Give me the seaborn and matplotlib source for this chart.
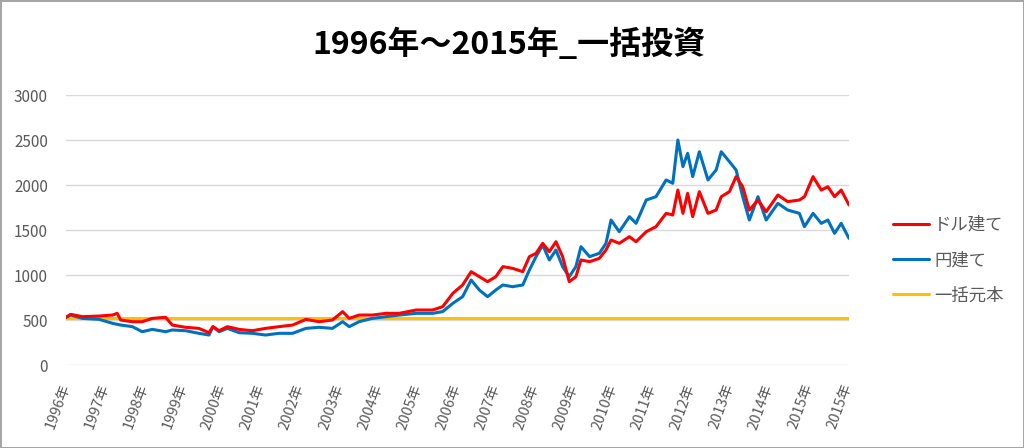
import matplotlib
matplotlib.use("Agg")
import matplotlib.pyplot as plt
import pandas as pd
import seaborn as sns

# Values (decimal year, value)
year_frac = [
    1996.00, 1996.12, 1996.42, 1996.85, 1997.19, 1997.31, 1997.40, 1997.70,
    1997.95, 1998.21, 1998.55, 1998.72, 1999.06, 1999.40, 1999.66, 1999.76,
    1999.92, 2000.13, 2000.43, 2000.77, 2001.11, 2001.45, 2001.80, 2002.14,
    2002.48, 2002.82, 2003.08, 2003.25, 2003.50, 2003.84, 2004.19, 2004.53,
    2004.96, 2005.38, 2005.64, 2005.90, 2006.15, 2006.37, 2006.58, 2006.79,
    2007.00, 2007.18, 2007.43, 2007.69, 2007.86, 2008.03, 2008.20, 2008.37,
    2008.54, 2008.71, 2008.88, 2009.05, 2009.18, 2009.40, 2009.65, 2009.82,
    2009.95, 2010.16, 2010.42, 2010.59, 2010.85, 2011.10, 2011.36, 2011.53,
    2011.66, 2011.79, 2011.91, 2012.04, 2012.21, 2012.43, 2012.64, 2012.77,
    2012.98, 2013.15, 2013.32, 2013.49, 2013.71, 2013.92, 2014.22, 2014.47,
    2014.77, 2014.90, 2015.12, 2015.33, 2015.50, 2015.67, 2015.84, 2016.04,
]
dollar_based = [
    530, 563, 537, 544, 555, 574, 500, 481,
    481, 518, 530, 444, 419, 407, 359, 426,
    381, 426, 396, 381, 407, 426, 444, 507,
    481, 500, 593, 518, 555, 555, 574, 574,
    611, 611, 648, 796, 889, 1037, 981, 926,
    981, 1093, 1074, 1037, 1204, 1241, 1352, 1259,
    1370, 1204, 926, 981, 1167, 1148, 1185, 1278,
    1389, 1352, 1426, 1370, 1481, 1537, 1685, 1667,
    1944, 1685, 1907, 1648, 1926, 1685, 1722, 1870,
    1926, 2093, 1981, 1722, 1833, 1704, 1889, 1815,
    1833, 1870, 2093, 1944, 1981, 1870, 1944, 1778,
]
yen_based = [
    530, 555, 518, 507, 463, 452, 444, 426,
    370, 396, 370, 389, 381, 352, 333, 426,
    370, 407, 359, 352, 333, 352, 352, 407,
    419, 407, 481, 426, 481, 518, 537, 555,
    574, 574, 593, 685, 759, 944, 833, 759,
    833, 889, 870, 889, 1056, 1204, 1333, 1167,
    1278, 1093, 981, 1093, 1315, 1204, 1241, 1352,
    1611, 1481, 1648, 1574, 1833, 1870, 2056, 2019,
    2500, 2204, 2352, 2093, 2370, 2056, 2167, 2370,
    2259, 2167, 1870, 1611, 1870, 1611, 1796, 1722,
    1685, 1537, 1685, 1574, 1611, 1463, 1574, 1407,
]
principal = 520

tick_years = list(range(1996, 2017))
tick_labels = [
    "1996年", "1997年", "1998年", "1999年", "2000年", "2001年", "2002年",
    "2003年", "2004年", "2005年", "2006年", "2007年", "2008年", "2009年",
    "2010年", "2011年", "2012年", "2013年", "2014年", "2015年", "2015年",
]
series_names = ["ドル建て", "円建て", "一括元本"]
series_colors = ["#FF0000", "#0070C0", "#FFC000"]

sns.set_theme(style="white")
plt.rcParams["font.family"] = ["Noto Sans CJK JP", "DejaVu Sans"]

df = pd.DataFrame({
    "year": year_frac,
    series_names[0]: dollar_based,
    series_names[1]: yen_based,
    series_names[2]: [principal] * len(year_frac),
})

fig = plt.figure(figsize=(10.24, 4.48), dpi=100)
fig.patch.set_edgecolor("#a6a6a6")
fig.patch.set_linewidth(2)
ax = fig.add_axes([66 / 1024, 1 - 365 / 448, (849 - 66) / 1024, 270 / 448])

# principal first so the others draw over it
for name, color, z in [(series_names[2], series_colors[2], 2),
                       (series_names[1], series_colors[1], 3),
                       (series_names[0], series_colors[0], 4)]:
    sns.lineplot(data=df, x="year", y=name, ax=ax, color=color,
                 linewidth=2.2, label=name, zorder=z)

ax.set_xlim(year_frac[0], year_frac[-1])
ax.set_ylim(0, 3000)
ax.set_yticks(range(0, 3001, 500))
ax.set_xticks(tick_years)
ax.set_xticklabels(tick_labels, rotation=70, ha="right", va="center",
                   rotation_mode="anchor")
ax.tick_params(axis="x", length=0, pad=14, labelsize=10.5, colors="#595959")
ax.tick_params(axis="y", length=0, pad=13, labelsize=11, colors="#595959")
ax.set_xlabel("")
ax.set_ylabel("")
ax.yaxis.grid(True, color="#d9d9d9", linewidth=1)
ax.xaxis.grid(False)
for s in ax.spines.values():
    s.set_visible(False)

# legend in Excel order
handles, labels = ax.get_legend_handles_labels()
order = [labels.index(n) for n in series_names]
ax.get_legend().remove()
fig.legend([handles[i] for i in order], [labels[i] for i in order],
           loc="center left", bbox_to_anchor=(884 / 1024, 1 - 260 / 448),
           frameon=False, fontsize=12.5, labelspacing=1.0, handlelength=2.1,
           handletextpad=0.3, borderpad=0, labelcolor="#595959")

fig.text(0.497, 1 - 45 / 448, "1996年～2015年_一括投資", ha="center",
         va="center", fontsize=23, fontweight="bold", color="black")

fig.savefig("out.png", dpi=100)
